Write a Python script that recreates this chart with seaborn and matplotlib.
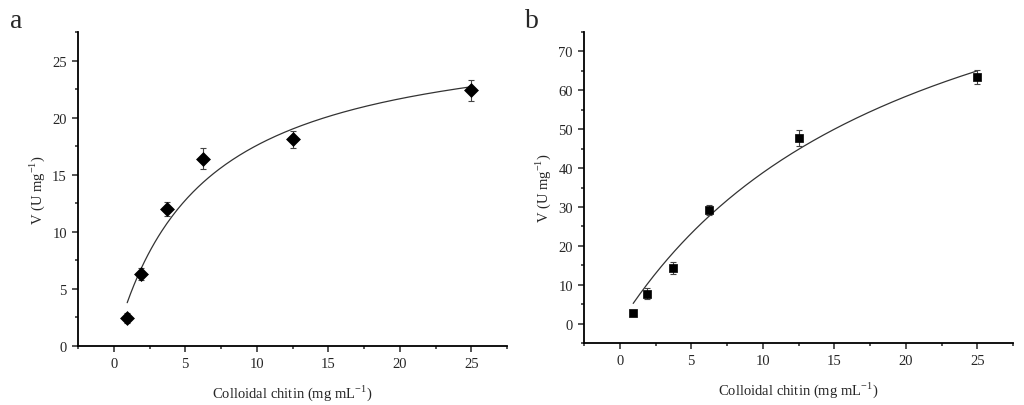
import numpy as np
import pandas as pd
import matplotlib
matplotlib.use("Agg")
import matplotlib.pyplot as plt
import seaborn as sns
from matplotlib.ticker import MultipleLocator

# ---- data ----
substrate = [0.94, 1.875, 3.75, 6.25, 12.5, 25.0]
v_a = [2.45, 6.3, 12.0, 16.4, 18.1, 22.4]
err_a = [0.45, 0.5, 0.6, 0.9, 0.75, 0.9]
v_b = [2.7, 7.7, 14.3, 29.2, 47.7, 63.4]
err_b = [0.6, 1.5, 1.5, 1.2, 2.0, 1.8]
# Michaelis-Menten fit parameters (Vmax, Km)
fit_a = (28.2, 6.05)
fit_b = (118.3, 20.5)

sns.set_style("ticks")
plt.rcParams['font.family'] = ['Liberation Serif', 'DejaVu Serif']
plt.rcParams['mathtext.fontset'] = 'custom'
plt.rcParams['mathtext.rm'] = 'Liberation Serif'

fig = plt.figure(figsize=(10.24, 4.06), dpi=100)
ax_a = fig.add_axes([78/1024, 1-347/406, (507-78)/1024, (347-33)/406])
ax_b = fig.add_axes([584/1024, 1-344/406, (1013-584)/1024, (344-33)/406])

s_curve = np.linspace(substrate[0], substrate[-1], 200)

def draw(ax, v, err, fit, marker, msize, ylim, ymajor, yminor):
    df = pd.DataFrame({"S": substrate, "V": v})
    vmax, km = fit
    curve = pd.DataFrame({"S": s_curve, "V": vmax * s_curve / (km + s_curve)})
    sns.lineplot(data=curve, x="S", y="V", ax=ax, color="#333333", lw=0.9)
    ax.errorbar(substrate, v, yerr=err, fmt="none", ecolor="#444444",
                elinewidth=0.8, capsize=2.5, capthick=0.8, zorder=3)
    sns.scatterplot(data=df, x="S", y="V", ax=ax, marker=marker, s=msize,
                    color="black", edgecolor="black", linewidth=0.5, zorder=4)
    ax.set_xlim(-2.5, 27.5)
    ax.set_ylim(*ylim)
    ax.xaxis.set_major_locator(MultipleLocator(5))
    ax.xaxis.set_minor_locator(MultipleLocator(2.5))
    ax.yaxis.set_major_locator(MultipleLocator(ymajor))
    ax.yaxis.set_minor_locator(MultipleLocator(yminor))
    ax.tick_params(which="major", length=4, width=1.1, labelsize=10.5, direction="out", pad=4)
    ax.tick_params(which="minor", length=2.5, width=1.1, direction="out")
    for sp in ["top", "right"]:
        ax.spines[sp].set_visible(False)
    for sp in ["left", "bottom"]:
        ax.spines[sp].set_linewidth(1.3)
        ax.spines[sp].set_color("black")
    ax.set_xlabel(r"Colloidal chitin (mg mL$^{-1}$)", fontsize=10.5, labelpad=9)
    ax.set_ylabel(r"V (U mg$^{-1}$)", fontsize=10.5, labelpad=4)

draw(ax_a, v_a, err_a, fit_a, "D", 50, (0, 27.5), 5, 2.5)
draw(ax_b, v_b, err_b, fit_b, "s", 32, (-5, 75), 10, 5)

ax_a.set_yticks([0, 5, 10, 15, 20, 25])

fig.text(10/1024, 1-22/406, "a", fontsize=20, va="center", ha="left")
fig.text(525/1024, 1-22/406, "b", fontsize=20, va="center", ha="left")

fig.savefig("out.png", dpi=100)
